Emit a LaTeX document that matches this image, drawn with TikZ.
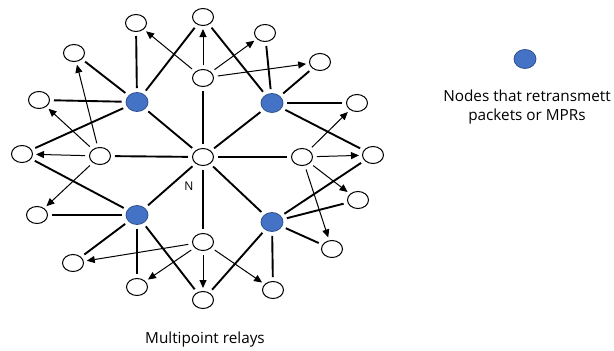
\documentclass[tikz,border=0pt]{standalone}
\usepackage{fontspec}
\setmainfont{Open Sans}
\usetikzlibrary{shapes.geometric,arrows.meta}
\definecolor{mprblue}{RGB}{68,114,196}
\definecolor{mpredge}{RGB}{47,82,143}
\tikzset{
  plain/.style={ellipse,draw=black,line width=1pt,fill=white,minimum width=21pt,minimum height=17pt,inner sep=0pt},
  mpr/.style={ellipse,draw=mpredge,line width=0.8pt,fill=mprblue,minimum width=22pt,minimum height=19pt,inner sep=0pt},
  link/.style={line width=1.9pt,shorten >=4pt,shorten <=4pt},
  send/.style={line width=1pt,-{Triangle[length=8pt,width=7pt]},shorten >=3pt,shorten <=4pt},
  lbl/.style={font=\fontsize{15.3}{19}\selectfont,align=center}
}
\begin{document}
\begin{tikzpicture}[x=1pt,y=-1pt]
\useasboundingbox (0,0) rectangle (614,351);
% MPR nodes
\node[mpr] (B1) at (137,102) {};
\node[mpr] (B2) at (272,103) {};
\node[mpr] (B3) at (137,215) {};
\node[mpr] (B4) at (272,222) {};
% plain nodes
\node[plain] (N) at (203,157) {};
\node[plain] (T) at (203,17) {};
\node[plain] (U) at (203,78) {};
\node[plain] (D) at (203,242) {};
\node[plain] (Bo) at (203,300) {};
\node[plain] (L) at (100,156) {};
\node[plain] (LL) at (22,154) {};
\node[plain] (R) at (302,157) {};
\node[plain] (RR) at (373,155) {};
\node[plain] (a) at (136,23) {};
\node[plain] (b) at (74,53) {};
\node[plain] (c) at (39,100) {};
\node[plain] (d) at (265,33) {};
\node[plain] (e) at (320,62) {};
\node[plain] (f) at (357,103) {};
\node[plain] (g) at (37,215) {};
\node[plain] (h) at (73,263) {};
\node[plain] (i) at (137,287) {};
\node[plain] (j) at (358,200) {};
\node[plain] (k) at (332,249) {};
\node[plain] (l) at (273,290) {};
% thick links
\foreach \s/\t in {B1/a,B1/T,B1/b,B1/c,B1/LL,B1/N,
                   B3/LL,B3/g,B3/h,B3/i,B3/Bo,B3/N,
                   B2/T,B2/d,B2/e,B2/f,B2/RR,B2/N,
                   B4/N,B4/RR,B4/j,B4/k,B4/l,B4/Bo,
                   U/N,L/N,N/R,N/D}
  \draw[link] (\s) -- (\t);
% arrows
\foreach \s/\t in {U/a,U/T,U/d,U/e,
                   L/b,L/c,L/LL,L/g,
                   D/h,D/i,D/Bo,D/l,
                   R/f,R/RR,R/j,R/k}
  \draw[send] (\s) -- (\t);
% labels
\node[font=\fontsize{12}{14}\selectfont] (Nl) at (189,186) {N};
\node[mpr] (leg) at (525,59) {};
\node[lbl] (legtxt) at (527,107) {Nodes that retransmett\\packets or MPRs};
\node[lbl] (cap) at (205,340) {Multipoint relays};
\end{tikzpicture}
\end{document}
